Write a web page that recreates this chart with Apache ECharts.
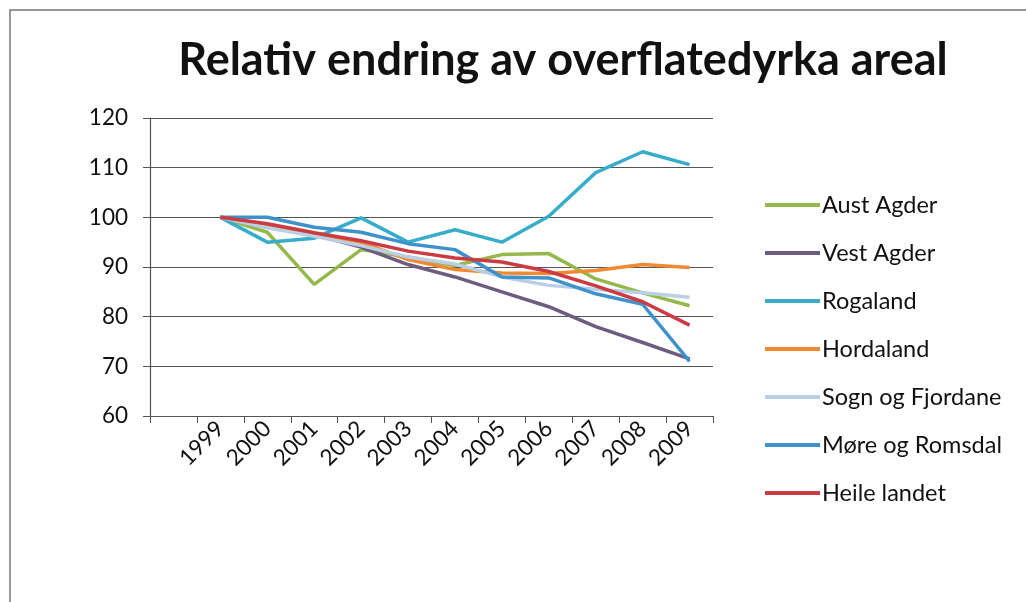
<!DOCTYPE html>
<html>
<head>
<meta charset="utf-8">
<script src="https://cdn.jsdelivr.net/npm/echarts@6/dist/echarts.min.js"></script>
<style>
html,body{margin:0;padding:0;background:#fff;}
#chart{width:1026px;height:602px;}
</style>
</head>
<body>
<div id="chart"></div>
<script>
var categories = ['', '1999', '2000', '2001', '2002', '2003', '2004', '2005', '2006', '2007', '2008', '2009'];
var yTicks = [60, 70, 80, 90, 100, 110, 120];
var austAgder = [null, 100, 97, 86.5, 93.5, 92, 90.3, 92.5, 92.7, 87.6, 84.8, 82.2];
var vestAgder = [null, 100, 98.5, 96.5, 94, 90.5, 88, 85, 82, 78, 74.8, 71.5];
var rogaland = [null, 100, 95, 95.8, 99.9, 95, 97.5, 95, 100.2, 109, 113.2, 110.6];
var hordaland = [null, 100, 98.3, 96.7, 95, 91.5, 89.5, 88.8, 88.7, 89.3, 90.5, 89.9];
var sognFjordane = [null, 100, 97.9, 96.2, 94.3, 92, 90.6, 88, 86.3, 85.5, 84.8, 83.9];
var moreRomsdal = [null, 100, 100, 98, 97, 94.7, 93.5, 88, 87.8, 84.6, 82.5, 71];
var heileLandet = [null, 100, 98.7, 96.9, 95.3, 93.2, 91.8, 91, 89.1, 86.2, 83, 78.3];

var seriesDefs = [
  {name: 'Aust Agder', data: austAgder, color: '#94b84a'},
  {name: 'Vest Agder', data: vestAgder, color: '#6f5b80'},
  {name: 'Rogaland', data: rogaland, color: '#38adc9'},
  {name: 'Hordaland', data: hordaland, color: '#f08a32'},
  {name: 'Sogn og Fjordane', data: sognFjordane, color: '#b9cfe6'},
  {name: 'Møre og Romsdal', data: moreRomsdal, color: '#3d92cb'},
  {name: 'Heile landet', data: heileLandet, color: '#cc3b41'}
];

var chart = echarts.init(document.getElementById('chart'), null, {renderer: 'canvas'});
var FONT = 'Lato, "Open Sans", sans-serif';
chart.setOption({
  backgroundColor: '#ffffff',
  animation: false,
  title: {
    text: 'Relativ endring av overflatedyrka areal',
    left: 558,
    top: 33,
    textAlign: 'center',
    textStyle: {fontFamily: FONT, fontSize: 45, fontWeight: 'bold', color: '#111'}
  },
  graphic: [{
    type: 'rect',
    shape: {x: 10, y: 10, width: 1040, height: 620},
    style: {fill: 'none', stroke: '#777', lineWidth: 1.5},
    silent: true
  }],
  legend: {
    orient: 'vertical',
    left: 760,
    top: 188,
    itemWidth: 55,
    itemHeight: 4,
    itemGap: 24,
    icon: 'rect',
    textStyle: {fontFamily: FONT, fontSize: 23.5, color: '#111', padding: [0, 0, 0, -3]},
    data: seriesDefs.map(function (s) { return s.name; })
  },
  grid: {left: 150, right: 313, top: 118, bottom: 186, containLabel: false},
  xAxis: {
    type: 'category',
    data: categories,
    boundaryGap: true,
    axisLine: {lineStyle: {color: '#555', width: 1.2}},
    axisTick: {show: true, length: 7, lineStyle: {color: '#555'}},
    axisLabel: {rotate: 45, margin: 9, interval: 0, fontFamily: FONT, fontSize: 22.5, color: '#111'},
    splitLine: {show: false}
  },
  yAxis: {
    type: 'value',
    min: yTicks[0],
    max: yTicks[yTicks.length - 1],
    interval: 10,
    axisLine: {show: true, lineStyle: {color: '#555', width: 1.2}},
    axisTick: {show: true, length: 7, lineStyle: {color: '#555'}},
    axisLabel: {margin: 22, fontFamily: FONT, fontSize: 22.5, color: '#111'},
    splitLine: {show: true, lineStyle: {color: '#555', width: 1.2}}
  },
  series: seriesDefs.map(function (s) {
    return {
      name: s.name,
      type: 'line',
      data: s.data,
      symbol: 'none',
      showSymbol: false,
      connectNulls: false,
      color: s.color,
      lineStyle: {color: s.color, width: 3.5},
      itemStyle: {color: s.color}
    };
  })
});
</script>
</body>
</html>
